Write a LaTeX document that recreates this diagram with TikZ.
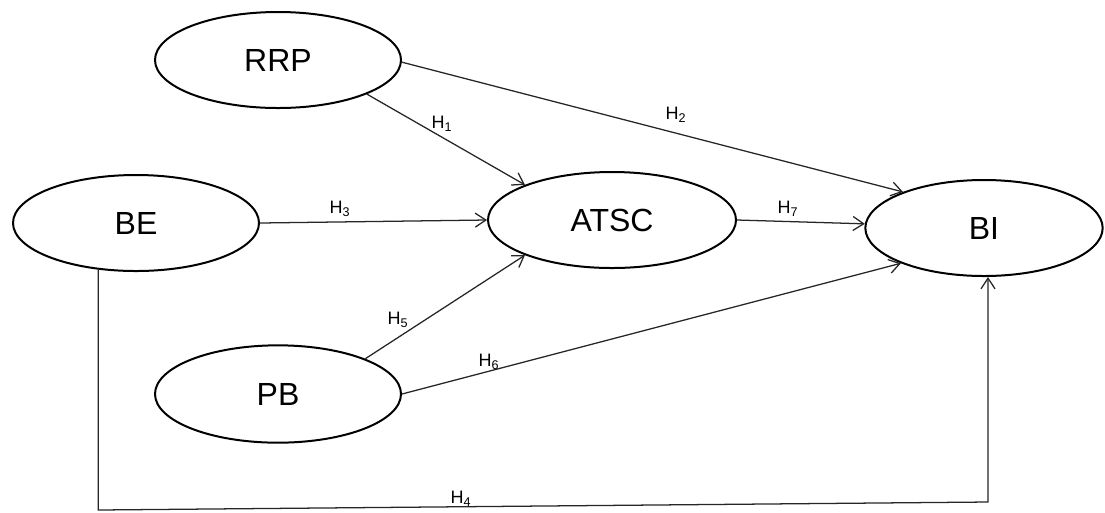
\documentclass[tikz,border=0pt]{standalone}
\usepackage{fontspec}
\setmainfont{Liberation Sans}
\usetikzlibrary{shapes.geometric,arrows.meta,calc}
\begin{document}
\begin{tikzpicture}[x=0.75pt,y=-0.75pt,
  construct/.style={draw=black,line width=1.5pt,ellipse,inner sep=0pt,
    font=\fontsize{24pt}{28pt}\selectfont},
  link/.style={draw=black!85,line width=0.95pt,-{Straight Barb[length=8pt,width=10.5pt,line width=0.95pt]}},
  hlab/.style={inner sep=0pt,font=\fontsize{13.5pt}{15pt}\selectfont}]
\useasboundingbox (0,0) rectangle (1105,512);
\fill[white] (0,0) rectangle (1105,512);
\node[construct,minimum width=184.5pt,minimum height=72pt] (RRP) at (278,60) {RRP};
\node[construct,minimum width=184.5pt,minimum height=72pt] (BE) at (136,223) {BE};
\node[construct,minimum width=186pt,minimum height=72pt] (ATSC) at (612,220) {ATSC};
\node[construct,minimum width=178pt,minimum height=72pt] (BI) at (984,228) {BI};
\node[construct,minimum width=184.5pt,minimum height=73pt] (PB) at (278,394) {PB};
\coordinate (c1) at (99,510);
\coordinate (c2) at (988,502);
\draw[link] (RRP.-21) -- (ATSC.158);
\draw[link] (RRP.-1) -- (BI.156);
\draw[link] (BE.east) -- (ATSC.west);
\draw[link] (ATSC.east) -- (BI.178);
\draw[link] (PB.22) -- (ATSC.202);
\draw[link] (PB.0) -- (BI.203);
\draw[link] (BE.-129) -- (BE.-129 |- c1) -- (c2) -- (c2 |- BI.south);
\node[hlab] (h1) at (442,124) {H\textsubscript{1}};
\node[hlab] (h2) at (676,115) {H\textsubscript{2}};
\node[hlab] (h3) at (340,209) {H\textsubscript{3}};
\node[hlab] (h7) at (788,209) {H\textsubscript{7}};
\node[hlab] (h5) at (398,320) {H\textsubscript{5}};
\node[hlab] (h6) at (489,362) {H\textsubscript{6}};
\node[hlab] (h4) at (461,499) {H\textsubscript{4}};
\end{tikzpicture}
\end{document}
